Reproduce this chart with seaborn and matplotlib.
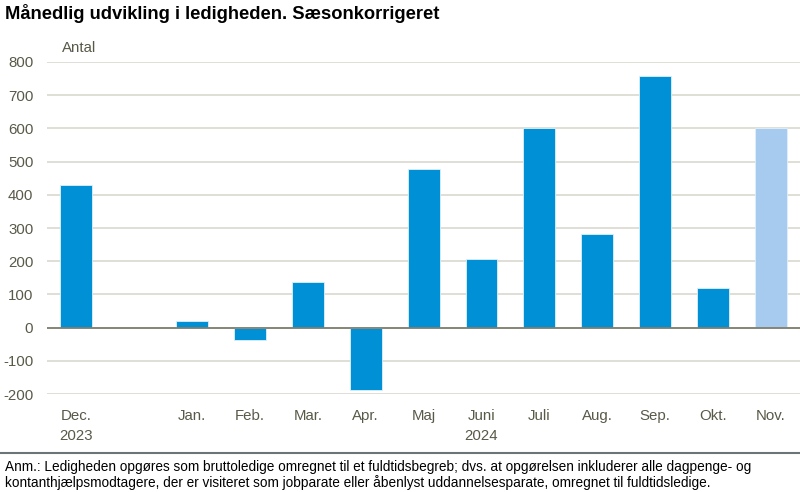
import pandas as pd
import numpy as np
import matplotlib
matplotlib.use('Agg')
import matplotlib.pyplot as plt
import seaborn as sns

# Monthly change in unemployment, seasonally adjusted
months = ['Dec.\n2023', ' ', 'Jan.', 'Feb.', 'Mar.', 'Apr.', 'Maj', 'Juni\n2024',
          'Juli', 'Aug.', 'Sep.', 'Okt.', 'Nov.']
values = [430, np.nan, 19, -36, 137, -189, 478, 206, 600, 282, 757, 118, 600]
preliminary = ['Nov.']

yticks = [-200, -100, 0, 100, 200, 300, 400, 500, 600, 700, 800]

title = 'Månedlig udvikling i ledigheden. Sæsonkorrigeret'
unit = 'Antal'
note = ('Anm.: Ledigheden opgøres som bruttoledige omregnet til et fuldtidsbegreb; dvs. at opgørelsen inkluderer alle dagpenge- og\n'
        'kontanthjælpsmodtagere, der er visiteret som jobparate eller åbenlyst uddannelsesparate, omregnet til fuldtidsledige.')

data = pd.DataFrame({'month': months, 'value': values}).dropna()

blue = '#0090D5'
light_blue = '#A6CBEE'
palette = {m: (light_blue if m in preliminary else blue) for m in months}

sns.set_style('white')
plt.rcParams['font.family'] = ['Liberation Sans', 'DejaVu Sans']

fig = plt.figure(figsize=(8, 4.92), dpi=100)
ax = fig.add_axes([0.059, 0.199, 0.941, 0.675])

sns.barplot(data=data, x='month', y='value', hue='month', order=months,
            palette=palette, width=0.55, legend=False, ax=ax, saturation=1,
            edgecolor='#dff0fa', linewidth=0.6, zorder=3)

ax.set_ylim(-200, 800)
ax.set_xlim(-0.5, len(months) - 0.5)
ax.set_yticks(yticks)
ax.set_yticklabels([str(t) for t in yticks])
ax.grid(axis='y', color='#D9D9D1', linewidth=1.2, zorder=0)
ax.axhline(0, color='#7F7F6F', linewidth=1.3, zorder=4)
for s in ax.spines.values():
    s.set_visible(False)

ax.tick_params(axis='both', length=0, labelsize=10.8, labelcolor='#595948')
ax.tick_params(axis='x', pad=11)
ax.tick_params(axis='y', pad=10)
for lbl in ax.get_xticklabels():
    lbl.set_linespacing(1.5)
ax.set_xlabel('')
ax.set_ylabel('')

fig.text(0.078, 0.902, unit, fontsize=10.8, color='#595948', va='center')
fig.text(0.006, 0.972, title, fontsize=13.2, fontweight='bold', va='center', color='black')
fig.add_artist(plt.Line2D([0, 1], [1 - 453 / 492] * 2, color='#6D7478', linewidth=1.5))
fig.text(0.006, 0.004, note, fontsize=9.8, va='bottom', color='black', linespacing=1.1)

fig.savefig('out.png', dpi=100)
plt.close(fig)
